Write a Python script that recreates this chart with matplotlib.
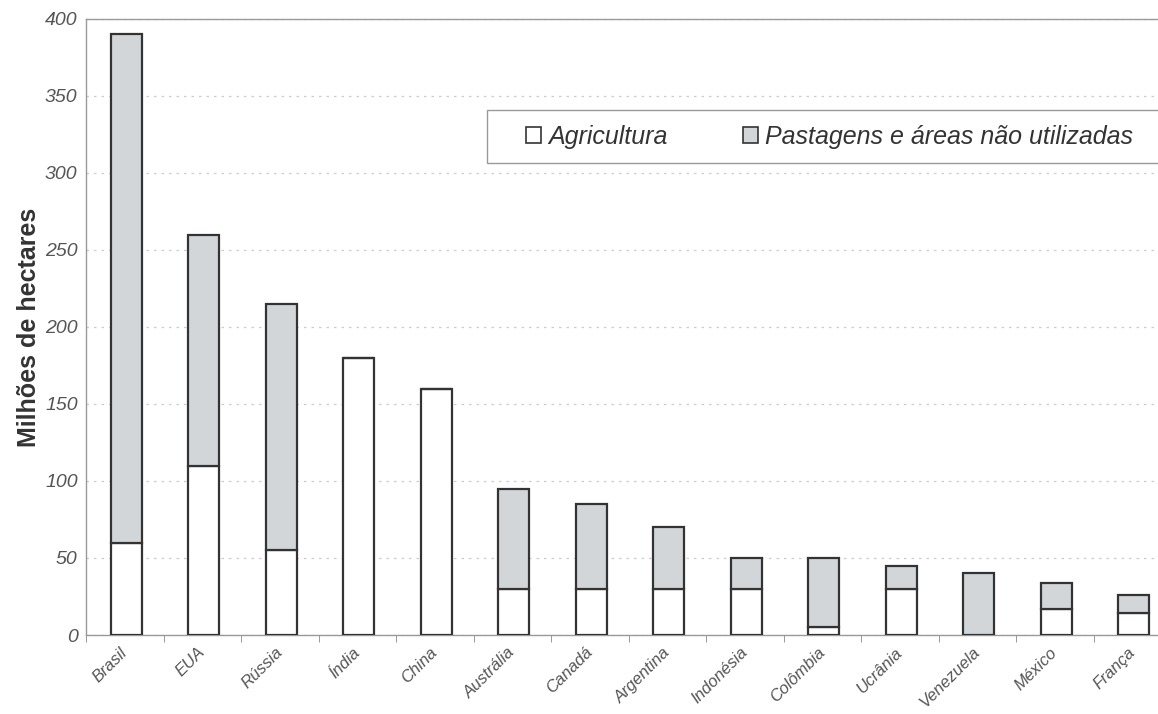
import matplotlib
matplotlib.use("Agg")
import matplotlib.pyplot as plt
from matplotlib.patches import Rectangle, Patch
from matplotlib.transforms import ScaledTranslation
import numpy as np

plt.rcParams['font.family'] = ['Liberation Sans', 'DejaVu Sans']

countries = ["Brasil", "EUA", "Rússia", "Índia", "China", "Austrália", "Canadá",
             "Argentina", "Indonésia", "Colômbia", "Ucrânia", "Venezuela", "México", "França"]
agricultura = [60, 110, 55, 180, 160, 30, 30, 30, 30, 5, 30, 0, 17, 14]
total = [390, 260, 215, 180, 160, 95, 85, 70, 50, 50, 45, 40, 34, 26]
pastagens = [t - a for t, a in zip(total, agricultura)]
yticks = [0, 50, 100, 150, 200, 250, 300, 350, 400]
legend_labels = ["Agricultura", "Pastagens e áreas não utilizadas"]

W, H = 1158, 714
fig = plt.figure(figsize=(W / 100, H / 100), dpi=100)
left, right, top, bottom = 86, 1171, 19, 635
ax = fig.add_axes([left / W, 1 - bottom / H, (right - left) / W, (bottom - top) / H])

x = np.arange(len(countries))
edge = "#333333"
fill2 = "#d3d6d9"
bw = 0.40
ax.bar(x + 0.02, agricultura, width=bw, color="white", edgecolor=edge, linewidth=1.6, zorder=3)
ax.bar(x + 0.02, pastagens, width=bw, bottom=agricultura, color=fill2, edgecolor=edge, linewidth=1.6, zorder=3)

ax.set_xlim(-0.5, len(countries) - 0.5)
ax.set_ylim(0, 400)
ax.set_yticks(yticks)
ax.set_yticklabels([str(v) for v in yticks], fontsize=14, fontstyle="italic", color="#555555")
ax.yaxis.grid(True, linestyle=(0, (2, 4)), color="#cccccc", linewidth=0.9, zorder=0)
ax.tick_params(axis="y", length=0, pad=6)

ax.set_xticks(x)
ax.set_xticklabels(countries, rotation=45, ha="right", va="top", rotation_mode="anchor",
                   fontsize=12, fontstyle="italic", color="#555555")
ax.tick_params(axis="x", length=0, pad=7)
shift = ScaledTranslation(-5 / 100, 0, fig.dpi_scale_trans)
for lbl in ax.get_xticklabels():
    lbl.set_transform(lbl.get_transform() + shift)
ax.set_xticks(np.arange(len(countries) + 1) - 0.5, minor=True)
ax.tick_params(axis="x", which="minor", length=5, direction="out", color="#888888")

for s in ["left", "bottom", "top", "right"]:
    ax.spines[s].set_color("#999999")
    ax.spines[s].set_linewidth(1.0)

ax.set_ylabel("Milhões de hectares", fontsize=18, fontweight="bold", color="#333333", labelpad=3)

# legend frame
fig.patches.append(Rectangle((487 / W, 1 - 163 / H), (1180 - 487) / W, (163 - 110) / H,
                             transform=fig.transFigure, facecolor="white",
                             edgecolor="#999999", linewidth=1.0, zorder=5))
handles = [Patch(facecolor="white", edgecolor=edge, linewidth=1.2),
           Patch(facecolor=fill2, edgecolor=edge, linewidth=1.2)]
leg = fig.legend(handles, legend_labels, loc="center left",
                 bbox_to_anchor=(526 / W, 1 - 137 / H), ncol=2, frameon=False,
                 handlelength=0.6, handleheight=0.6, handletextpad=0.3,
                 columnspacing=3.0, borderpad=0, borderaxespad=0,
                 prop={"size": 18, "style": "italic"})
for t in leg.get_texts():
    t.set_color("#333333")
leg.set_zorder(6)

fig.savefig("out.png", dpi=100)
